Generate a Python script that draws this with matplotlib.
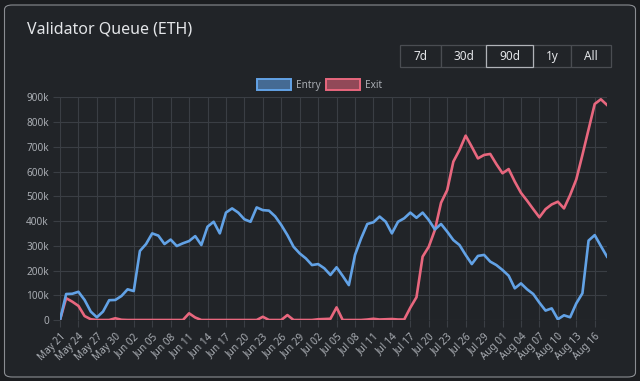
import numpy as np
import pandas as pd
import matplotlib
matplotlib.use("Agg")
import matplotlib.pyplot as plt
from matplotlib.patches import FancyBboxPatch, Rectangle

plt.rcParams['font.family'] = ['Noto Sans', 'DejaVu Sans']

dates = pd.date_range("2025-05-21", periods=90, freq="D")

entry_k = [0, 105, 106, 114, 81, 34, 11, 34, 80, 81,
           97, 124, 117, 279, 307, 350, 341, 307, 325, 299,
           310, 319, 339, 303, 377, 397, 350, 434, 451, 434,
           407, 397, 455, 444, 442, 419, 384, 343, 296, 269,
           249, 222, 226, 209, 182, 213, 178, 141, 263, 330,
           388, 395, 418, 397, 350, 397, 411, 434, 413, 434,
           404, 366, 388, 357, 323, 303, 263, 226, 259, 263,
           236, 222, 202, 179, 128, 148, 124, 105, 70, 38,
           47, 3, 19, 11, 67, 108, 321, 343, 299, 256]

exit_k = [0, 88, 74, 57, 16, 3, 0, 0, 0, 7,
          1, 0, 0, 0, 0, 0, 0, 0, 0, 0,
          0, 27, 10, 0, 0, 0, 0, 0, 0, 0,
          0, 0, 0, 13, 0, 0, 0, 20, 0, 0,
          0, 0, 3, 4, 5, 51, 0, 0, 0, 0,
          2, 5, 2, 3, 4, 2, 2, 50, 92, 256,
          296, 364, 474, 525, 640, 687, 745, 700, 653, 667,
          671, 630, 593, 610, 559, 514, 482, 448, 415, 448,
          467, 478, 451, 505, 568, 667, 770, 873, 892, 869]

ranges = ["7d", "30d", "90d", "1y", "All"]

entry = np.array(entry_k) * 1000
exit_ = np.array(exit_k) * 1000
labels = [d.strftime("%b %d") for d in dates]

blue = "#62a2e6"
red = "#e8677e"
text_col = "#a9adb3"
grid_col = "#3a3e44"

fig = plt.figure(figsize=(6.4, 3.81), dpi=100)
fig.patch.set_facecolor("#1b1d20")

# card
card = FancyBboxPatch((4.5 / 640, 4 / 381), 631 / 640, 372 / 381,
                      boxstyle="round,pad=0,rounding_size=0.012",
                      transform=fig.transFigure, facecolor="#212428",
                      edgecolor="#8a8d92", linewidth=0.8, zorder=0)
fig.patches.append(card)

fig.text(27 / 640, 1 - 29.5 / 381, "Validator Queue (ETH)", color="#e3e5e8",
         fontsize=11.5, va="center", ha="left")

# range buttons
edges = [400, 441, 486, 533, 571, 611]
for i, r in enumerate(ranges):
    x0, x1 = edges[i], edges[i + 1]
    sel = r == "90d"
    fig.patches.append(Rectangle((x0 / 640, 1 - 67 / 381), (x1 - x0) / 640, 22 / 381,
                                 transform=fig.transFigure, facecolor="#212428",
                                 edgecolor="#b0b3b8" if sel else "#4a4d52",
                                 linewidth=0.9, zorder=2 if sel else 1))
    fig.text((x0 + x1) / 2 / 640, 1 - 56.5 / 381, r, color="#e3e5e8",
             fontsize=8.5, ha="center", va="center")

# legend
for x0, col, name in [(257, blue, "Entry"), (326, red, "Exit")]:
    fig.patches.append(Rectangle((x0 / 640, 1 - 90 / 381), 34 / 640, 11 / 381,
                                 transform=fig.transFigure, facecolor=col + "90",
                                 edgecolor=col, linewidth=1.4, zorder=1))
    fig.text((x0 + 39) / 640, 1 - 88 / 381, name, color=text_col,
             fontsize=7.2, ha="left", va="baseline")

ax = fig.add_axes([60 / 640, 1 - 320 / 381, 547 / 640, (320 - 97.3) / 381])
ax.set_zorder(5)
ax.set_facecolor("none")
x = np.arange(len(dates))
ax.plot(x, exit_, color=red, lw=1.9, solid_joinstyle="round", zorder=3)
ax.plot(x, entry, color=blue, lw=1.9, solid_joinstyle="round", zorder=4)

ax.set_xlim(0, len(dates) - 1)
ax.set_ylim(0, 900000)
ax.set_yticks(np.arange(0, 900001, 100000))
ax.set_yticklabels(["0"] + [f"{v}k" for v in range(100, 901, 100)])
ticks = x[::3]
ax.set_xticks(ticks)
ax.set_xticklabels([labels[i] for i in ticks], rotation=45, ha="right",
                   rotation_mode="anchor")
ax.tick_params(colors=text_col, labelsize=7.2, length=5, width=0.8, color=grid_col, pad=3)
ax.grid(True, color=grid_col, linewidth=0.8)
for s in ax.spines.values():
    s.set_visible(False)

fig.savefig("out.png", dpi=100, facecolor=fig.get_facecolor())
